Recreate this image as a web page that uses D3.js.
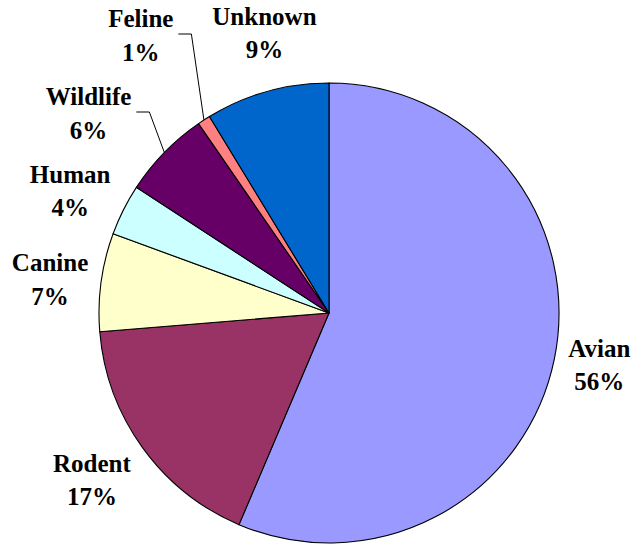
<!DOCTYPE html>
<html>
<head>
<meta charset="utf-8">
<script src="https://cdn.jsdelivr.net/npm/d3@7"></script>
<style>
  html, body { margin: 0; padding: 0; background: #fff; }
  svg { display: block; }
</style>
</head>
<body>
<svg id="chart" width="641" height="544"></svg>
<script>
// ---- data ----
const categories = ["Avian", "Rodent", "Canine", "Human", "Wildlife", "Feline", "Unknown"];
const values = [56.4, 17.3, 6.9, 3.6, 6.2, 0.9, 8.7];
const colors = ["#9999FF", "#993366", "#FFFFCC", "#CCFFFF", "#660066", "#FF8080", "#0066CC"];
// label layout: offset from slice direction point at label radius [dx, dy]
const labelOffsets = [[-4, -12], [-10, -5], [-1.5, -4], [-8.6, -4.6], [-40, -12.5], [-36, -51], [11, -18.6]];
const hasLeader = [false, false, false, false, true, true, false];

const W = 641, H = 544;
const cx = 329, cy = 313, R = 230, labelR = 280;
const fontSize = 25, lineStep = 33.5;
const fontFamily = "Liberation Serif";

const svg = d3.select("#chart");
const g = svg.append("g").attr("transform", `translate(${cx},${cy})`);

const total = d3.sum(values);
const data = categories.map((c, i) => ({ name: c, value: values[i], color: colors[i], i }));

const pie = d3.pie().sort(null).value(d => d.value);
const arcs = pie(data);
const arc = d3.arc().innerRadius(0).outerRadius(R);

g.selectAll("path.slice").data(arcs).enter().append("path")
  .attr("class", "slice")
  .attr("d", arc)
  .attr("fill", d => d.data.color)
  .attr("stroke", "#000")
  .attr("stroke-width", 1.1)
  .attr("stroke-linejoin", "round");

function pointAt(angle, r) {
  return [r * Math.sin(angle), -r * Math.cos(angle)];
}

arcs.forEach(a => {
  const mid = (a.startAngle + a.endAngle) / 2;
  const [px, py] = pointAt(mid, labelR);
  const off = labelOffsets[a.data.i];
  const lx = px + off[0], ly = py + off[1];
  const pct = Math.round(a.data.value / total * 100) + "%";
  const t = g.append("text")
    .attr("text-anchor", "middle")
    .attr("font-family", fontFamily)
    .attr("font-weight", "bold")
    .attr("font-size", fontSize)
    .attr("fill", "#000");
  t.append("tspan").attr("x", lx).attr("y", ly).text(a.data.name);
  t.append("tspan").attr("x", lx).attr("y", ly + lineStep).text(pct);

  if (hasLeader[a.data.i]) {
    const bb = t.node().getBBox();
    const [ex, ey] = pointAt(mid, R);
    const x0 = bb.x + bb.width + 5;
    const yL = ly + 7;
    const path = d3.path();
    path.moveTo(x0, yL);
    path.lineTo(x0 + 13, yL);
    path.lineTo(ex, ey);
    g.append("path")
      .attr("d", path.toString())
      .attr("fill", "none")
      .attr("stroke", "#000")
      .attr("stroke-width", 1);
  }
});
</script>
</body>
</html>
